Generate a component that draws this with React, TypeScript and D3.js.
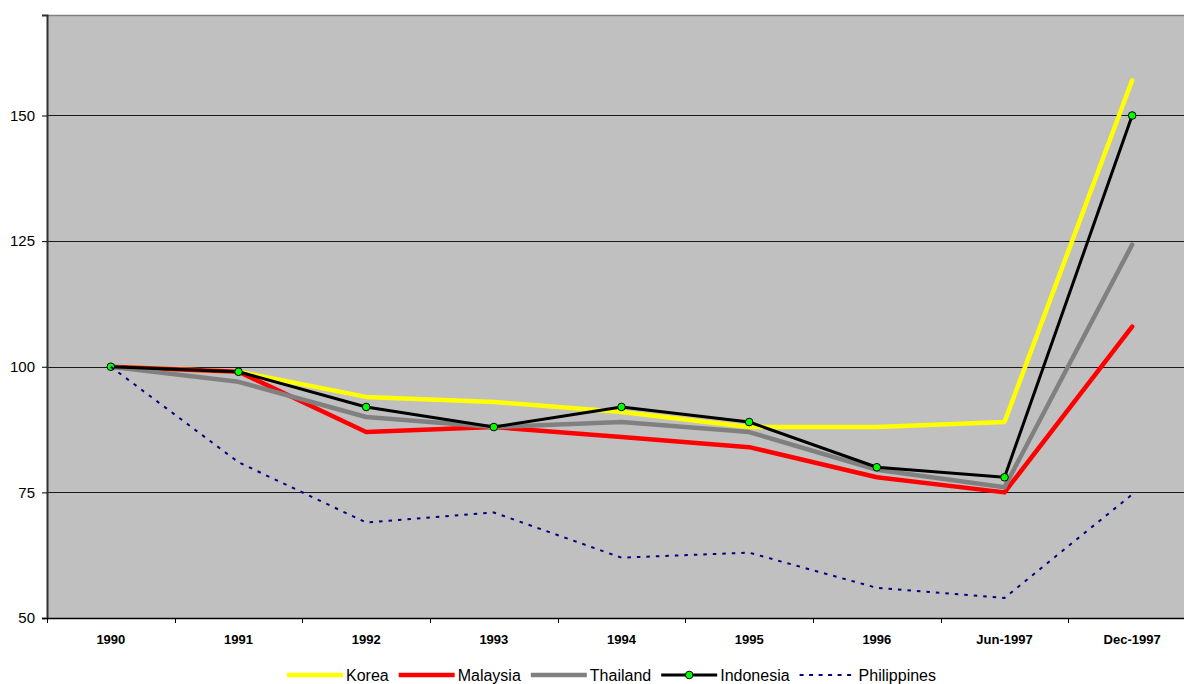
import React, { useEffect, useRef } from 'react';
import * as d3 from 'd3';

const categories = ['1990', '1991', '1992', '1993', '1994', '1995', '1996', 'Jun-1997', 'Dec-1997'];
const korea = [100, 99, 94, 93, 91, 88, 88, 89, 157];
const malaysia = [100, 99, 87, 88, 86, 84, 78, 75, 108];
const thailand = [100, 97, 90, 88, 89, 87, 79.5, 76, 124.3];
const indonesia = [100, 99, 92, 88, 92, 89, 80, 78, 150];
const philippines = [100, 81, 69, 71, 62, 63, 56, 54, 74.6];
const yTicks = [50, 75, 100, 125, 150];

const seriesNames = ['Korea', 'Malaysia', 'Thailand', 'Indonesia', 'Philippines'];
const seriesValues = [korea, malaysia, thailand, indonesia, philippines];

// styling per series (same order as seriesNames)
const seriesStyle = [
  { color: '#ffff00', width: 4.5, dash: null, marker: false },
  { color: '#ff0000', width: 4.5, dash: null, marker: false },
  { color: '#808080', width: 4.5, dash: null, marker: false },
  { color: '#000000', width: 3, dash: null, marker: true },
  { color: '#000080', width: 2, dash: '3.5,6', marker: false },
];

const W = 1184;
const H = 684;
const margin = { top: 15, left: 47, bottom: 66 };
const plotRight = 1196;
const FONT = '"Liberation Sans", Arial, sans-serif';

export default function App() {
  const svgRef = useRef<SVGSVGElement>(null);

  useEffect(() => {
    if (!svgRef.current) return;
    const svg = d3.select(svgRef.current);
    svg.selectAll('*').remove();

    const bottom = H - margin.bottom;
    const x = d3.scaleBand().domain(categories).range([margin.left, plotRight]).padding(0);
    const y = d3.scaleLinear().domain([50, 170]).range([bottom, margin.top]);
    const cx = (c: string) => (x(c) || 0) + x.bandwidth() / 2;

    // plot background
    svg.append('rect')
      .attr('x', margin.left).attr('y', margin.top)
      .attr('width', plotRight - margin.left).attr('height', bottom - margin.top)
      .attr('fill', '#c0c0c0');

    svg.append('line')
      .attr('x1', margin.left).attr('x2', plotRight)
      .attr('y1', margin.top + 0.5).attr('y2', margin.top + 0.5)
      .attr('stroke', '#808080').attr('stroke-width', 1.5);

    // gridlines
    svg.append('g').selectAll('line')
      .data(yTicks.filter(t => t > 50))
      .enter().append('line')
      .attr('x1', margin.left).attr('x2', plotRight)
      .attr('y1', d => Math.round(y(d)) + 0.5).attr('y2', d => Math.round(y(d)) + 0.5)
      .attr('stroke', '#1a1a1a').attr('stroke-width', 1);

    // y axis
    const yAxis = svg.append('g')
      .attr('transform', `translate(${margin.left},0)`)
      .call(d3.axisLeft(y).tickValues(yTicks).tickSize(5).tickPadding(7).tickFormat(d3.format('d')));
    yAxis.select('.domain').attr('stroke', '#303030').attr('stroke-width', 2);
    yAxis.selectAll('.tick line').attr('stroke', '#000');
    yAxis.selectAll('text').attr('font-family', FONT).attr('font-size', 15).attr('fill', '#000');

    // x axis
    const xAxis = svg.append('g')
      .attr('transform', `translate(0,${bottom})`)
      .call(d3.axisBottom(x).tickSize(0).tickPadding(17));
    xAxis.select('.domain').attr('stroke', '#000').attr('stroke-width', 1.5);
    xAxis.selectAll('text')
      .attr('font-family', FONT).attr('font-size', 13).attr('font-weight', 'bold').attr('fill', '#000');
    xAxis.append('g').selectAll('line')
      .data(categories)
      .enter().append('line')
      .attr('x1', d => Math.round(x(d) || 0) + 0.5).attr('x2', d => Math.round(x(d) || 0) + 0.5)
      .attr('y1', 0).attr('y2', 5)
      .attr('stroke', '#000');

    // series lines
    const line = d3.line<number>()
      .x((_, i) => cx(categories[i]))
      .y(d => y(d));

    seriesValues.forEach((vals, si) => {
      const st = seriesStyle[si];
      svg.append('path')
        .datum(vals)
        .attr('d', line)
        .attr('fill', 'none')
        .attr('stroke', st.color)
        .attr('stroke-width', st.width)
        .attr('stroke-linejoin', 'round')
        .attr('stroke-linecap', st.dash ? 'butt' : 'round')
        .attr('stroke-dasharray', st.dash);
      if (st.marker) {
        svg.append('g').selectAll('circle')
          .data(vals)
          .enter().append('circle')
          .attr('cx', (_, i) => cx(categories[i]))
          .attr('cy', d => y(d))
          .attr('r', 3.8)
          .attr('fill', '#00ff00')
          .attr('stroke', '#000')
          .attr('stroke-width', 1);
      }
    });

    // legend
    const legend = svg.append('g').attr('transform', 'translate(0,675)');
    const ctx = document.createElement('canvas').getContext('2d');
    if (ctx) ctx.font = `16px ${FONT}`;
    let lx = 287;
    seriesNames.forEach((name, si) => {
      const st = seriesStyle[si];
      const lineLen = 56;
      legend.append('line')
        .attr('x1', lx).attr('x2', lx + lineLen)
        .attr('y1', 0).attr('y2', 0)
        .attr('stroke', st.color)
        .attr('stroke-width', st.dash ? 2 : st.width)
        .attr('stroke-dasharray', st.dash ? '4,5.5' : null);
      if (st.marker) {
        legend.append('circle')
          .attr('cx', lx + lineLen / 2).attr('cy', 0).attr('r', 3.8)
          .attr('fill', '#00ff00').attr('stroke', '#000');
      }
      const tx = lx + lineLen + 3;
      legend.append('text')
        .attr('x', tx).attr('y', 0).attr('dy', '0.36em')
        .attr('font-family', FONT).attr('font-size', 16).attr('fill', '#000')
        .text(name);
      const tw = ctx ? ctx.measureText(name).width : name.length * 8;
      lx = tx + tw + 10;
    });
  }, []);

  return (
    <div style={{ position: 'absolute', left: 0, top: 0, width: W, height: H, background: '#fff' }}>
      <svg ref={svgRef} width={W} height={H} style={{ display: 'block' }} />
    </div>
  );
}
